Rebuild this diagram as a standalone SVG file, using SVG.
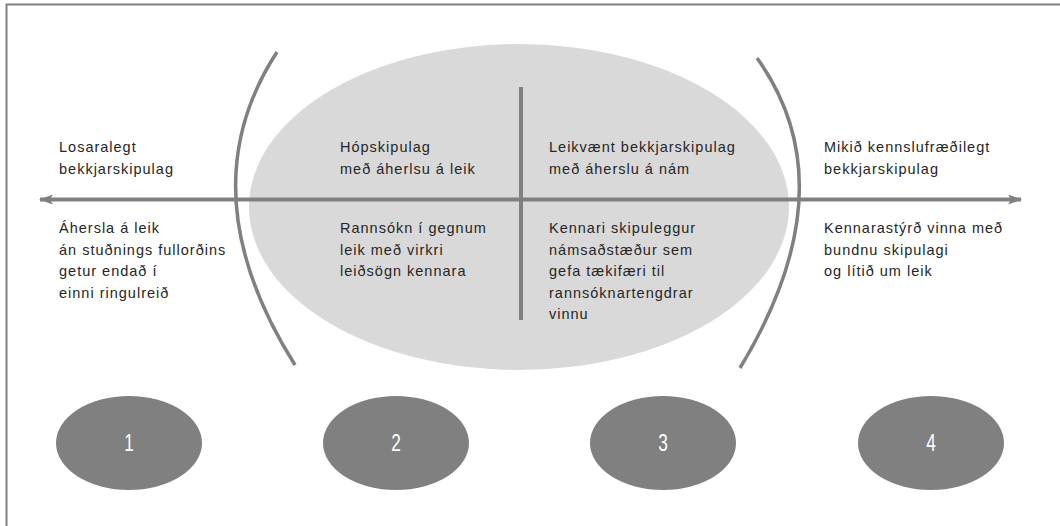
<svg xmlns="http://www.w3.org/2000/svg" width="1060" height="526" viewBox="0 0 1060 526">
<style>
.ln{stroke:#808080;fill:none}
.t{font-family:"Liberation Sans",Arial,sans-serif;font-size:14.5px;letter-spacing:1px;fill:#262626}
.num{font-family:"Liberation Sans",Arial,sans-serif;font-size:23px;fill:#ffffff;text-anchor:middle}
.nd{fill:#808080}
</style>
<defs>
<marker id="ah" viewBox="0 0 14 10" refX="13" refY="5" markerWidth="14" markerHeight="10" markerUnits="userSpaceOnUse" orient="auto-start-reverse">
<path d="M0,0 L14,5 L0,10 L3,5 Z" fill="#808080"/>
</marker>
</defs>
<rect x="0" y="0" width="1060" height="526" fill="#ffffff"/>
<path d="M6.5,530 V4.5 H1065" class="ln" stroke-width="2"/>
<g id="center-ellipse"><ellipse cx="519" cy="207" rx="270" ry="163" fill="#d9d9d9"/></g>
<g id="connectors">
<line x1="40" y1="199.5" x2="1021" y2="199.5" class="ln" stroke-width="4" marker-start="url(#ah)" marker-end="url(#ah)"/>
<line x1="521" y1="87" x2="521" y2="320" class="ln" stroke-width="4"/>
<path d="M277,52 Q186,191.5 295,365" class="ln" stroke-width="3.5"/>
<path d="M757,58 Q849.5,187 740,368" class="ln" stroke-width="3.5"/>
</g>
<g id="text-1">
<text class="t" x="59" y="152">Losaralegt</text>
<text class="t" x="59" y="174">bekkjarskipulag</text>
<text class="t" x="59" y="233">Áhersla á leik</text>
<text class="t" x="59" y="254.5">án stuðnings fullorðins</text>
<text class="t" x="59" y="276">getur  endað í</text>
<text class="t" x="59" y="297.5">einni ringulreið</text>
</g>
<g id="text-2">
<text class="t" x="340" y="152">Hópskipulag</text>
<text class="t" x="340" y="174">með  áherlsu á leik</text>
<text class="t" x="340" y="233">Rannsókn í gegnum</text>
<text class="t" x="340" y="254.5">leik með  virkri</text>
<text class="t" x="340" y="276">leiðsögn kennara</text>
</g>
<g id="text-3">
<text class="t" x="549" y="152">Leikvænt bekkjarskipulag</text>
<text class="t" x="549" y="174">með  áherslu á nám</text>
<text class="t" x="549" y="233">Kennari skipuleggur</text>
<text class="t" x="549" y="254.5">námsaðstæður sem</text>
<text class="t" x="549" y="276">gefa tækifæri til</text>
<text class="t" x="549" y="297.5">rannsóknartengdrar</text>
<text class="t" x="549" y="319">vinnu</text>
</g>
<g id="text-4">
<text class="t" x="824" y="152">Mikið kennslufræðilegt</text>
<text class="t" x="824" y="174">bekkjarskipulag</text>
<text class="t" x="824" y="233">Kennarastýrð vinna með</text>
<text class="t" x="824" y="254.5">bundnu skipulagi</text>
<text class="t" x="824" y="276">og lítið um  leik</text>
</g>
<g id="node-1"><ellipse class="nd" cx="129" cy="443" rx="73" ry="47"/><text class="num" x="129" y="451" transform="translate(129 0) scale(0.75 1) translate(-129 0)">1</text></g>
<g id="node-2"><ellipse class="nd" cx="396" cy="443" rx="73" ry="47"/><text class="num" x="396" y="451" transform="translate(396 0) scale(0.75 1) translate(-396 0)">2</text></g>
<g id="node-3"><ellipse class="nd" cx="663" cy="443" rx="73" ry="47"/><text class="num" x="663" y="451" transform="translate(663 0) scale(0.75 1) translate(-663 0)">3</text></g>
<g id="node-4"><ellipse class="nd" cx="931" cy="443" rx="73" ry="47"/><text class="num" x="931" y="451" transform="translate(931 0) scale(0.75 1) translate(-931 0)">4</text></g>
</svg>
